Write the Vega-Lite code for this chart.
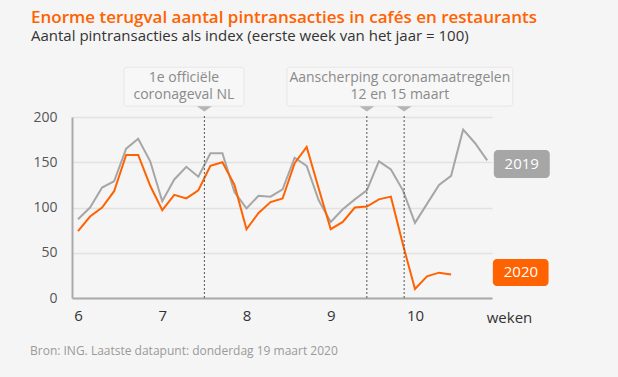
{
  "$schema": "https://vega.github.io/schema/vega-lite/v6.json",
  "width": 420,
  "height": 181,
  "autosize": "none",
  "padding": {"left": 72, "top": 117, "right": 126, "bottom": 79},
  "background": "#f5f5f5",
  "title": {
    "text": "Enorme terugval aantal pintransacties in cafés en restaurants",
    "subtitle": "Aantal pintransacties als index (eerste week van het jaar = 100)",
    "anchor": "start",
    "frame": "group",
    "dx": -41,
    "offset": 22,
    "font": "Open Sans",
    "fontSize": 17,
    "fontWeight": 600,
    "color": "#FF6200",
    "subtitleFont": "Open Sans",
    "subtitleFontSize": 15,
    "subtitleColor": "#333333",
    "subtitlePadding": 2
  },
  "config": {
    "view": {"stroke": null},
    "font": "Open Sans"
  },
  "datasets": {
    "series": [
      {"dag": 0, "jaar": "2019", "index": 87}, {"dag": 1, "jaar": "2019", "index": 100}, {"dag": 2, "jaar": "2019", "index": 122}, {"dag": 3, "jaar": "2019", "index": 129}, {"dag": 4, "jaar": "2019", "index": 165}, {"dag": 5, "jaar": "2019", "index": 176}, {"dag": 6, "jaar": "2019", "index": 151}, {"dag": 7, "jaar": "2019", "index": 107}, {"dag": 8, "jaar": "2019", "index": 131}, {"dag": 9, "jaar": "2019", "index": 145}, {"dag": 10, "jaar": "2019", "index": 134}, {"dag": 11, "jaar": "2019", "index": 160}, {"dag": 12, "jaar": "2019", "index": 160}, {"dag": 13, "jaar": "2019", "index": 117}, {"dag": 14, "jaar": "2019", "index": 99}, {"dag": 15, "jaar": "2019", "index": 113}, {"dag": 16, "jaar": "2019", "index": 112}, {"dag": 17, "jaar": "2019", "index": 120}, {"dag": 18, "jaar": "2019", "index": 155}, {"dag": 19, "jaar": "2019", "index": 146}, {"dag": 20, "jaar": "2019", "index": 108}, {"dag": 21, "jaar": "2019", "index": 84}, {"dag": 22, "jaar": "2019", "index": 98}, {"dag": 23, "jaar": "2019", "index": 109}, {"dag": 24, "jaar": "2019", "index": 119}, {"dag": 25, "jaar": "2019", "index": 151}, {"dag": 26, "jaar": "2019", "index": 142}, {"dag": 27, "jaar": "2019", "index": 119}, {"dag": 28, "jaar": "2019", "index": 83}, {"dag": 29, "jaar": "2019", "index": 104}, {"dag": 30, "jaar": "2019", "index": 125}, {"dag": 31, "jaar": "2019", "index": 135}, {"dag": 32, "jaar": "2019", "index": 186}, {"dag": 33, "jaar": "2019", "index": 171}, {"dag": 34, "jaar": "2019", "index": 152},
      {"dag": 0, "jaar": "2020", "index": 74}, {"dag": 1, "jaar": "2020", "index": 90}, {"dag": 2, "jaar": "2020", "index": 100}, {"dag": 3, "jaar": "2020", "index": 118}, {"dag": 4, "jaar": "2020", "index": 158}, {"dag": 5, "jaar": "2020", "index": 158}, {"dag": 6, "jaar": "2020", "index": 124}, {"dag": 7, "jaar": "2020", "index": 97}, {"dag": 8, "jaar": "2020", "index": 114}, {"dag": 9, "jaar": "2020", "index": 110}, {"dag": 10, "jaar": "2020", "index": 119}, {"dag": 11, "jaar": "2020", "index": 146}, {"dag": 12, "jaar": "2020", "index": 150}, {"dag": 13, "jaar": "2020", "index": 125}, {"dag": 14, "jaar": "2020", "index": 76}, {"dag": 15, "jaar": "2020", "index": 94}, {"dag": 16, "jaar": "2020", "index": 106}, {"dag": 17, "jaar": "2020", "index": 110}, {"dag": 18, "jaar": "2020", "index": 149}, {"dag": 19, "jaar": "2020", "index": 167}, {"dag": 20, "jaar": "2020", "index": 121}, {"dag": 21, "jaar": "2020", "index": 76}, {"dag": 22, "jaar": "2020", "index": 84}, {"dag": 23, "jaar": "2020", "index": 100}, {"dag": 24, "jaar": "2020", "index": 101}, {"dag": 25, "jaar": "2020", "index": 109}, {"dag": 26, "jaar": "2020", "index": 112}, {"dag": 27, "jaar": "2020", "index": 59}, {"dag": 28, "jaar": "2020", "index": 10}, {"dag": 29, "jaar": "2020", "index": 24}, {"dag": 30, "jaar": "2020", "index": 28}, {"dag": 31, "jaar": "2020", "index": 26}
    ],
    "events": [
      {"dag": 10.5, "bodem": 0, "top": 203, "pointer": 209},
      {"dag": 24, "bodem": 0, "top": 203, "pointer": 209},
      {"dag": 27.1, "bodem": 0, "top": 203, "pointer": 209}
    ],
    "boxes": [
      {"x1": 3.82, "x2": 13.79, "y1": 212, "y2": 255},
      {"x1": 17.36, "x2": 36.13, "y1": 212, "y2": 255}
    ],
    "notes": [
      {"dag": 8.8, "index": 243, "tekst": "1e officiële"},
      {"dag": 8.8, "index": 224.5, "tekst": "coronageval NL"},
      {"dag": 26.74, "index": 243.5, "tekst": "Aanscherping coronamaatregelen"},
      {"dag": 26.74, "index": 224.5, "tekst": "12 en 15 maart"}
    ],
    "labels": [
      {"jaar": "2019", "x1": 34.55, "x2": 39.2, "y1": 132.6, "y2": 163.5, "xm": 36.87, "ym": 148},
      {"jaar": "2020", "x1": 34.47, "x2": 39.1, "y1": 13.3, "y2": 43.1, "xm": 36.8, "ym": 28.2}
    ],
    "footer": [
      {"dag": -3.99, "index": -58.6, "tekst": "Bron: ING. Laatste datapunt: donderdag  19 maart 2020"}
    ]
  },
  "encoding": {
    "x": {
      "type": "quantitative",
      "scale": {"domain": [-0.5, 34.4], "nice": false, "zero": false},
      "axis": {
        "values": [0, 7, 14, 21, 28],
        "labelExpr": "datum.value / 7 + 6",
        "grid": false, "ticks": false,
        "domainColor": "#aaaaaa", "domainWidth": 2,
        "labelFont": "Open Sans", "labelFontSize": 15, "labelColor": "#333333", "labelPadding": 10,
        "title": "weken", "titleX": 437, "titleY": 19, "titleAlign": "center", "titleBaseline": "middle",
        "titleFont": "Open Sans", "titleFontSize": 15, "titleFontWeight": "normal", "titleColor": "#333333"
      }
    },
    "y": {
      "type": "quantitative",
      "scale": {"domain": [0, 200], "nice": false},
      "axis": {
        "values": [0, 50, 100, 150, 200],
        "grid": true, "gridColor": "#e2e2e2", "gridWidth": 1.5,
        "ticks": false, "domainColor": "#aaaaaa", "domainWidth": 2,
        "labelFont": "Open Sans", "labelFontSize": 14, "labelColor": "#555555", "labelPadding": 15,
        "title": null
      }
    }
  },
  "layer": [
    {
      "data": {"name": "series"},
      "mark": {"type": "line", "strokeWidth": 2},
      "encoding": {
        "x": {"field": "dag"},
        "y": {"field": "index"},
        "color": {"field": "jaar", "type": "nominal", "scale": {"domain": ["2019", "2020"], "range": ["#a6a6a6", "#FF6200"]}, "legend": null}
      }
    },
    {
      "data": {"name": "boxes"},
      "mark": {"type": "rect", "fill": "#f7f7f7", "stroke": "#e6e6e6", "strokeWidth": 1, "cornerRadius": 3},
      "encoding": {
        "x": {"field": "x1"},
        "x2": {"field": "x2"},
        "y": {"field": "y1"},
        "y2": {"field": "y2"}
      }
    },
    {
      "data": {"name": "notes"},
      "mark": {"type": "text", "color": "#8a8a8a", "fontSize": 14, "align": "center", "baseline": "middle"},
      "encoding": {
        "x": {"field": "dag"},
        "y": {"field": "index"},
        "text": {"field": "tekst", "type": "nominal"}
      }
    },
    {
      "data": {"name": "events"},
      "mark": {"type": "rule", "color": "#555555", "strokeWidth": 1, "strokeDash": [2, 2]},
      "encoding": {
        "x": {"field": "dag"},
        "y": {"field": "bodem"},
        "y2": {"field": "top"}
      }
    },
    {
      "data": {"name": "events"},
      "mark": {"type": "point", "shape": "M-1,-0.35L1,-0.35L0,0.35Z", "size": 225, "filled": true, "color": "#b5b5b5", "opacity": 1},
      "encoding": {
        "x": {"field": "dag"},
        "y": {"field": "pointer"}
      }
    },
    {
      "data": {"name": "labels"},
      "mark": {"type": "rect", "cornerRadius": 4},
      "encoding": {
        "x": {"field": "x1"},
        "x2": {"field": "x2"},
        "y": {"field": "y1"},
        "y2": {"field": "y2"},
        "color": {"field": "jaar", "type": "nominal", "legend": null}
      }
    },
    {
      "data": {"name": "labels"},
      "mark": {"type": "text", "color": "white", "fontSize": 15, "align": "center", "baseline": "middle"},
      "encoding": {
        "x": {"field": "xm"},
        "y": {"field": "ym"},
        "text": {"field": "jaar", "type": "nominal"}
      }
    },
    {
      "data": {"name": "footer"},
      "mark": {"type": "text", "color": "#9a9a9a", "fontSize": 12, "align": "left", "baseline": "middle"},
      "encoding": {
        "x": {"field": "dag"},
        "y": {"field": "index"},
        "text": {"field": "tekst", "type": "nominal"}
      }
    }
  ]
}
